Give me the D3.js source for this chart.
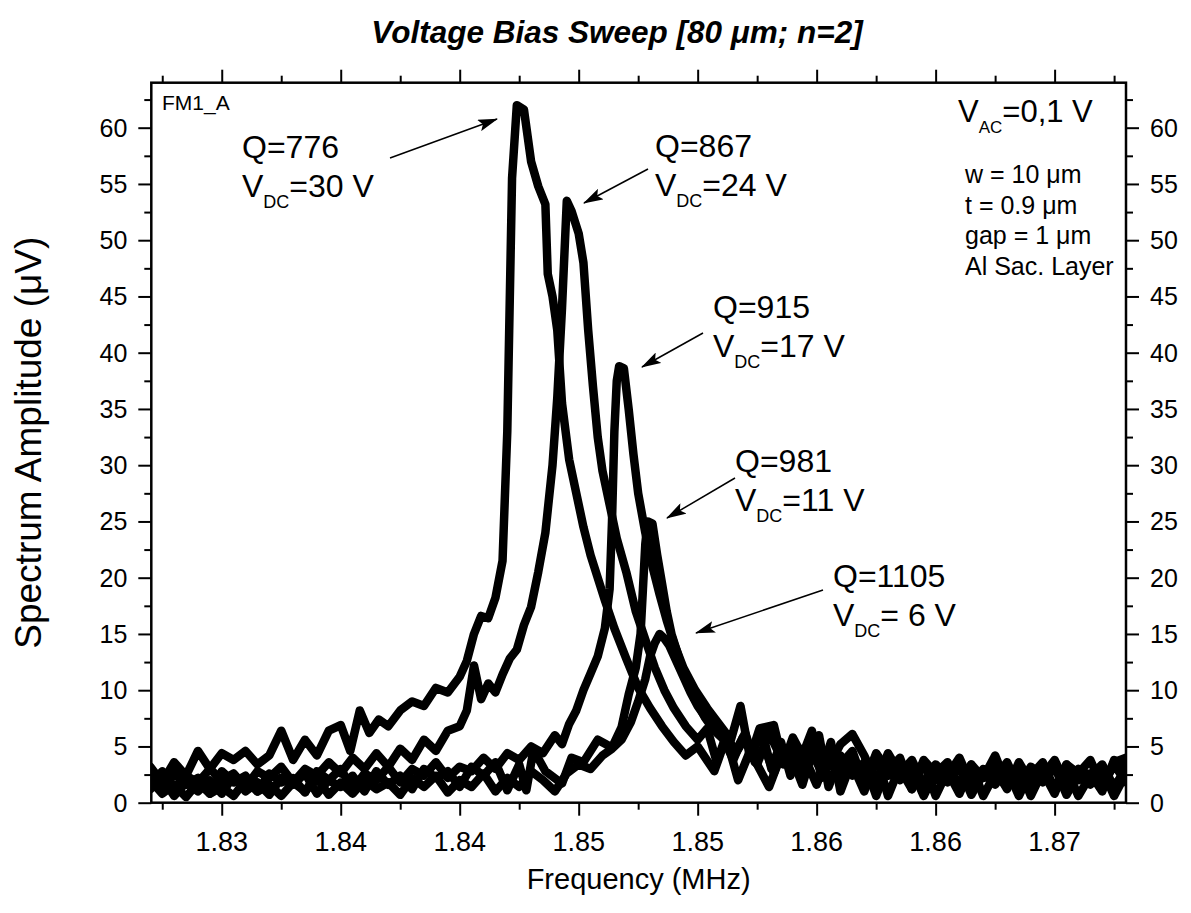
<!DOCTYPE html>
<html><head><meta charset="utf-8">
<script src="https://cdn.jsdelivr.net/npm/d3@7"></script>
<style>
html,body{margin:0;padding:0;background:#fff;}
svg{display:block;font-family:"Liberation Sans",Arial,Helvetica,sans-serif;}
</style></head><body>
<svg id="chart" width="1191" height="913"></svg>
<script>
// ---------------- data ----------------
const xTicks = [1.830, 1.835, 1.840, 1.845, 1.850, 1.855, 1.860, 1.865];
const xTickLabels = ["1.83", "1.84", "1.84", "1.85", "1.85", "1.86", "1.86", "1.87"];
const xMinorTicks = [1.8275, 1.8325, 1.8375, 1.8425, 1.8475, 1.8525, 1.8575, 1.8625, 1.8675];
const yTicks = [0, 5, 10, 15, 20, 25, 30, 35, 40, 45, 50, 55, 60];
const yTickLabels = ["0", "5", "10", "15", "20", "25", "30", "35", "40", "45", "50", "55", "60"];
const yMinorTicks = [2.5, 7.5, 12.5, 17.5, 22.5, 27.5, 32.5, 37.5, 42.5, 47.5, 52.5, 57.5, 62.5];

// [frequency MHz, amplitude uV]
const vdc30 = [[1.8270,3.2],[1.8275,1.8],[1.8280,3.6],[1.8285,2.4],[1.8290,4.6],[1.8295,3.0],[1.8300,4.4],[1.8305,3.8],[1.8310,4.6],[1.8315,3.4],[1.8320,4.2],[1.8325,6.4],[1.8330,3.8],[1.8335,5.6],[1.8340,4.2],[1.8345,6.4],[1.8350,6.9],[1.8354,4.6],[1.8358,8.2],[1.8362,6.2],[1.8366,7.4],[1.8370,6.8],[1.8375,8.2],[1.8380,9.0],[1.8385,8.6],[1.8390,10.2],[1.8395,9.8],[1.8400,11.2],[1.8403,12.6],[1.8406,15.0],[1.8409,16.6],[1.8412,16.4],[1.8415,18.2],[1.8418,21.5],[1.8420,33.0],[1.8422,55.5],[1.8424,62.0],[1.8427,61.6],[1.8430,57.0],[1.8433,54.8],[1.8436,53.2],[1.8437,47.0],[1.8439,45.0],[1.8441,42.0],[1.8443,35.5],[1.8446,30.5],[1.8449,27.5],[1.8452,24.5],[1.8455,22.0],[1.8458,20.0],[1.8461,18.0],[1.8465,15.5],[1.8470,12.8],[1.8475,10.2],[1.8480,8.4],[1.8485,6.8],[1.8490,5.4],[1.8495,4.2],[1.8500,5.0],[1.8507,2.8],[1.8512,5.8],[1.8517,2.0],[1.8522,4.6],[1.8526,3.0],[1.8530,1.4],[1.8535,4.2],[1.8540,3.0],[1.8545,4.0],[1.8550,1.6],[1.8555,4.4],[1.8560,2.6],[1.8565,3.4],[1.8570,1.0],[1.8575,3.8],[1.8580,2.4],[1.8585,3.0],[1.8590,1.2],[1.8595,3.6],[1.8600,2.0],[1.8605,2.8],[1.8610,0.8],[1.8615,3.2],[1.8620,2.2],[1.8625,3.0],[1.8630,1.2],[1.8635,3.6],[1.8640,1.8],[1.8645,2.8],[1.8650,0.8],[1.8655,3.4],[1.8660,2.0],[1.8665,2.6],[1.8670,1.0],[1.8675,3.8],[1.8680,3.2]];

const vdc24 = [[1.8270,1.6],[1.8275,2.8],[1.8280,1.2],[1.8285,2.4],[1.8290,1.8],[1.8295,3.0],[1.8300,2.0],[1.8305,2.6],[1.8310,1.4],[1.8315,2.8],[1.8320,2.2],[1.8325,3.2],[1.8330,1.8],[1.8335,3.0],[1.8340,2.4],[1.8345,3.6],[1.8350,2.6],[1.8355,4.0],[1.8360,3.0],[1.8365,4.4],[1.8370,3.2],[1.8375,4.8],[1.8380,3.8],[1.8385,5.6],[1.8390,4.6],[1.8395,6.4],[1.8400,6.8],[1.8403,8.2],[1.8406,12.2],[1.8409,9.2],[1.8412,10.6],[1.8415,9.8],[1.8418,11.4],[1.8421,12.8],[1.8424,13.6],[1.8427,15.8],[1.8430,17.4],[1.8433,20.5],[1.8436,24.0],[1.8439,30.0],[1.8441,36.0],[1.8443,44.0],[1.8445,53.5],[1.8447,52.6],[1.8450,50.6],[1.8452,48.0],[1.8454,42.0],[1.8456,37.0],[1.8458,32.5],[1.8460,29.5],[1.8463,26.5],[1.8466,23.5],[1.8470,20.5],[1.8474,17.0],[1.8478,14.5],[1.8482,12.0],[1.8486,10.0],[1.8490,8.4],[1.8495,6.8],[1.8500,5.6],[1.8504,6.6],[1.8508,3.6],[1.8512,6.0],[1.8516,4.4],[1.8520,5.8],[1.8525,3.4],[1.8530,6.2],[1.8535,4.0],[1.8540,5.0],[1.8545,2.4],[1.8550,5.9],[1.8555,3.2],[1.8560,5.2],[1.8565,6.1],[1.8570,4.2],[1.8575,1.8],[1.8580,4.4],[1.8585,2.6],[1.8590,3.8],[1.8595,1.6],[1.8600,3.4],[1.8605,2.4],[1.8610,4.0],[1.8615,1.6],[1.8620,3.0],[1.8625,2.2],[1.8630,3.6],[1.8635,1.4],[1.8640,3.2],[1.8645,2.4],[1.8650,3.8],[1.8655,1.6],[1.8660,3.0],[1.8665,2.4],[1.8670,3.4],[1.8675,1.4],[1.8680,3.0]];

const vdc17 = [[1.8270,2.4],[1.8275,1.0],[1.8280,2.6],[1.8285,1.6],[1.8290,2.2],[1.8295,0.8],[1.8300,2.8],[1.8305,1.8],[1.8310,2.4],[1.8315,1.0],[1.8320,2.6],[1.8325,1.8],[1.8330,2.2],[1.8335,0.9],[1.8340,2.8],[1.8345,2.0],[1.8350,3.0],[1.8355,1.2],[1.8360,2.6],[1.8365,2.0],[1.8370,3.2],[1.8375,1.8],[1.8380,3.0],[1.8385,2.4],[1.8390,3.6],[1.8395,2.2],[1.8400,3.2],[1.8405,2.8],[1.8410,4.0],[1.8415,3.0],[1.8420,4.4],[1.8425,3.8],[1.8430,5.0],[1.8435,4.4],[1.8440,6.0],[1.8443,5.2],[1.8446,7.0],[1.8449,8.2],[1.8452,10.0],[1.8455,11.5],[1.8458,13.0],[1.8461,15.5],[1.8463,19.0],[1.8464,25.0],[1.8465,33.0],[1.8466,37.5],[1.8467,38.8],[1.8469,38.6],[1.8471,35.0],[1.8473,31.0],[1.8475,27.5],[1.8478,24.0],[1.8481,21.0],[1.8484,18.5],[1.8487,16.2],[1.8490,14.2],[1.8494,12.0],[1.8499,10.0],[1.8504,8.4],[1.8509,7.0],[1.8514,5.6],[1.8518,8.6],[1.8522,4.0],[1.8526,6.6],[1.8532,6.9],[1.8536,3.4],[1.8540,5.8],[1.8544,4.2],[1.8548,6.4],[1.8552,2.2],[1.8556,5.0],[1.8560,3.4],[1.8565,4.6],[1.8570,1.6],[1.8575,4.4],[1.8580,2.8],[1.8585,4.0],[1.8590,1.2],[1.8595,3.8],[1.8600,2.6],[1.8605,3.6],[1.8610,1.4],[1.8615,3.4],[1.8620,2.2],[1.8625,4.2],[1.8630,1.6],[1.8635,3.0],[1.8640,2.4],[1.8645,3.6],[1.8650,1.2],[1.8655,3.4],[1.8660,2.6],[1.8665,3.8],[1.8670,1.4],[1.8675,3.6],[1.8680,4.0]];

const vdc11 = [[1.8270,1.2],[1.8275,2.2],[1.8280,0.6],[1.8285,1.8],[1.8290,1.0],[1.8295,2.0],[1.8300,0.8],[1.8305,2.4],[1.8310,1.0],[1.8315,1.8],[1.8320,0.7],[1.8325,2.2],[1.8330,1.6],[1.8335,2.6],[1.8340,0.8],[1.8345,2.0],[1.8350,1.4],[1.8355,2.4],[1.8360,1.0],[1.8365,2.8],[1.8370,1.6],[1.8375,2.4],[1.8380,1.2],[1.8385,3.0],[1.8390,2.2],[1.8395,2.8],[1.8400,1.4],[1.8405,3.2],[1.8410,2.4],[1.8415,3.6],[1.8420,1.1],[1.8425,3.4],[1.8428,1.1],[1.8431,4.7],[1.8436,2.8],[1.8443,1.7],[1.8447,4.0],[1.8452,3.6],[1.8458,5.6],[1.8464,4.9],[1.8468,6.7],[1.8471,9.6],[1.8474,12.0],[1.8476,15.0],[1.8477,19.0],[1.8478,23.0],[1.8479,25.0],[1.8481,24.8],[1.8483,22.0],[1.8485,19.5],[1.8487,17.0],[1.8489,15.0],[1.8492,13.0],[1.8495,11.0],[1.8499,9.2],[1.8503,7.6],[1.8507,6.4],[1.8511,5.6],[1.8515,3.8],[1.8519,5.8],[1.8523,4.4],[1.8527,6.4],[1.8531,3.0],[1.8535,5.4],[1.8539,2.4],[1.8543,4.8],[1.8547,3.6],[1.8551,6.0],[1.8555,1.4],[1.8560,4.2],[1.8565,2.4],[1.8570,3.6],[1.8575,0.6],[1.8580,3.4],[1.8585,2.0],[1.8590,3.0],[1.8595,0.6],[1.8600,2.8],[1.8605,1.8],[1.8610,3.2],[1.8615,0.7],[1.8620,2.6],[1.8625,1.6],[1.8630,3.0],[1.8635,0.6],[1.8640,2.8],[1.8645,1.8],[1.8650,3.2],[1.8655,0.7],[1.8660,2.6],[1.8665,1.6],[1.8670,3.0],[1.8675,0.6],[1.8680,2.6]];

const vdc6 = [[1.8270,2.0],[1.8275,0.8],[1.8280,1.6],[1.8285,0.5],[1.8290,1.8],[1.8295,0.8],[1.8300,1.4],[1.8305,0.6],[1.8310,2.0],[1.8315,1.0],[1.8320,1.6],[1.8325,0.6],[1.8330,1.8],[1.8335,1.0],[1.8340,2.2],[1.8345,0.7],[1.8350,1.8],[1.8355,0.8],[1.8360,2.0],[1.8365,1.2],[1.8370,1.8],[1.8375,0.7],[1.8380,2.2],[1.8385,1.4],[1.8390,2.4],[1.8395,0.9],[1.8400,2.0],[1.8405,1.4],[1.8410,2.6],[1.8415,1.0],[1.8420,2.2],[1.8425,1.4],[1.8430,2.8],[1.8435,2.0],[1.8440,1.0],[1.8445,2.6],[1.8450,3.4],[1.8455,3.0],[1.8460,4.2],[1.8464,4.8],[1.8468,5.6],[1.8472,7.2],[1.8475,9.0],[1.8478,11.0],[1.8480,13.0],[1.8482,14.2],[1.8484,15.0],[1.8486,14.6],[1.8488,14.0],[1.8491,12.6],[1.8494,11.2],[1.8497,9.8],[1.8500,8.6],[1.8504,7.4],[1.8508,6.4],[1.8512,5.8],[1.8516,4.6],[1.8520,6.2],[1.8524,3.6],[1.8528,5.0],[1.8532,2.6],[1.8536,4.8],[1.8540,3.8],[1.8544,1.6],[1.8548,4.4],[1.8552,2.8],[1.8556,5.4],[1.8560,1.0],[1.8565,3.8],[1.8570,2.0],[1.8575,4.2],[1.8580,0.6],[1.8585,3.2],[1.8590,1.8],[1.8595,3.6],[1.8600,0.6],[1.8605,2.8],[1.8610,1.6],[1.8615,3.4],[1.8620,0.6],[1.8625,2.6],[1.8630,1.4],[1.8635,3.2],[1.8640,0.6],[1.8645,2.8],[1.8650,1.2],[1.8655,3.0],[1.8660,0.6],[1.8665,2.4],[1.8670,1.4],[1.8675,3.4],[1.8680,1.8]];

const seriesList = [vdc30, vdc24, vdc17, vdc11, vdc6];
const qLabels = ["Q=776", "Q=867", "Q=915", "Q=981", "Q=1105"];
const vLabels = ["=30 V", "=24 V", "=17 V", "=11 V", "= 6 V"];
const specs = ["w = 10 μm", "t = 0.9 μm", "gap = 1 μm", "Al Sac. Layer"];

// ---------------- layout ----------------
const svg = d3.select("#chart");
const L = 151.3, R = 1126, T = 82.7, B = 802.7;
const x = d3.scaleLinear().domain([1.82704, 1.86800]).range([L, R]);
const y = d3.scaleLinear().domain([0, 64]).range([B, T]);

svg.append("rect").attr("width", 1191).attr("height", 913).attr("fill", "#fff");

const defs = svg.append("defs");
defs.append("clipPath").attr("id", "clip")
  .append("rect").attr("x", L).attr("y", T).attr("width", R - L).attr("height", B - T);
defs.append("marker").attr("id", "arrow")
  .attr("markerUnits", "userSpaceOnUse")
  .attr("markerWidth", 20).attr("markerHeight", 12)
  .attr("refX", 19).attr("refY", 6).attr("orient", "auto")
  .append("path").attr("d", "M0,0 L20,6 L0,12 L4,6 Z").attr("fill", "#000");

// curves
const line = d3.line().x(d => x(d[0])).y(d => y(d[1]));
svg.append("g").attr("clip-path", "url(#clip)")
  .selectAll("path").data(seriesList).join("path")
  .attr("d", line)
  .attr("fill", "none").attr("stroke", "#000")
  .attr("stroke-width", 8.5)
  .attr("stroke-linejoin", "round").attr("stroke-linecap", "round");

// axes
function styleAxis(g) {
  g.select(".domain").remove();
  g.selectAll("line").attr("stroke", "#000").attr("stroke-width", 2);
  g.selectAll("text").remove();
}
const MAJ = 13, MIN = 7;
const axisSpecs = [
  [d3.axisBottom, x, xTicks, MAJ, `translate(0,${B})`],
  [d3.axisBottom, x, xMinorTicks, MIN, `translate(0,${B})`],
  [d3.axisTop, x, xTicks, MAJ, `translate(0,${T})`],
  [d3.axisTop, x, xMinorTicks, MIN, `translate(0,${T})`],
  [d3.axisLeft, y, yTicks, MAJ, `translate(${L},0)`],
  [d3.axisLeft, y, yMinorTicks, MIN, `translate(${L},0)`],
  [d3.axisRight, y, yTicks, MAJ, `translate(${R},0)`],
  [d3.axisRight, y, yMinorTicks, MIN, `translate(${R},0)`]
];
axisSpecs.forEach(([fn, sc, vals, size, tr]) => {
  svg.append("g").attr("transform", tr)
    .call(fn(sc).tickValues(vals).tickSize(size).tickFormat("")).call(styleAxis);
});

// frame
svg.append("rect").attr("x", L).attr("y", T).attr("width", R - L).attr("height", B - T)
  .attr("fill", "none").attr("stroke", "#000").attr("stroke-width", 2.5);

// tick labels
svg.append("g").selectAll("text").data(xTicks).join("text")
  .attr("x", d => x(d)).attr("y", B + 48).attr("text-anchor", "middle")
  .attr("font-size", 27).attr("fill", "#000")
  .text((d, i) => xTickLabels[i]);
svg.append("g").selectAll("text").data(yTicks).join("text")
  .attr("x", L - 24).attr("y", d => y(d)).attr("dy", "0.36em").attr("text-anchor", "end")
  .attr("font-size", 25).attr("fill", "#000")
  .text((d, i) => yTickLabels[i]);
svg.append("g").selectAll("text").data(yTicks).join("text")
  .attr("x", R + 24).attr("y", d => y(d)).attr("dy", "0.36em").attr("text-anchor", "start")
  .attr("font-size", 25).attr("fill", "#000")
  .text((d, i) => yTickLabels[i]);

// titles
svg.append("text").attr("x", 617).attr("y", 43).attr("text-anchor", "middle")
  .attr("font-size", 31.5).attr("font-weight", "bold").attr("font-style", "italic")
  .text("Voltage Bias Sweep [80 μm; n=2]");
svg.append("text").attr("x", (L + R) / 2).attr("y", 889).attr("text-anchor", "middle")
  .attr("font-size", 29).text("Frequency (MHz)");
svg.append("text").attr("transform", `translate(41,${(T + B) / 2}) rotate(-90)`)
  .attr("text-anchor", "middle").attr("font-size", 37).text("Spectrum Amplitude (μV)");

// annotations
function subLabel(px, py, main, sub, rest, size, subSize, shift) {
  const t = svg.append("text").attr("x", px).attr("y", py).attr("font-size", size);
  t.append("tspan").text(main);
  t.append("tspan").attr("font-size", subSize).attr("dy", shift).text(sub);
  t.append("tspan").attr("font-size", size).attr("dy", -shift).text(rest);
}
svg.append("text").attr("x", 162).attr("y", 110).attr("font-size", 21).text("FM1_A");

const labelPos = [[242, 158], [655, 157], [713, 318], [735, 472], [833, 587]];
const arrows = [[390, 158, 497, 119], [648, 169, 584, 203], [703, 333, 642, 367], [735, 478, 667, 518], [823, 590, 696, 633]];
qLabels.forEach((q, i) => {
  const [px, py] = labelPos[i];
  svg.append("text").attr("x", px).attr("y", py).attr("font-size", 32).text(q);
  subLabel(px, py + 39, "V", "DC", vLabels[i], 32, 18, 11);
  const a = arrows[i];
  svg.append("line").attr("x1", a[0]).attr("y1", a[1]).attr("x2", a[2]).attr("y2", a[3])
    .attr("stroke", "#000").attr("stroke-width", 1.5).attr("marker-end", "url(#arrow)");
});

subLabel(958, 122, "V", "AC", "=0,1 V", 31, 17, 11);
specs.forEach((s, i) => {
  svg.append("text").attr("x", 965).attr("y", 183 + i * 30.5).attr("font-size", 25).text(s);
});
</script>
</body></html>
